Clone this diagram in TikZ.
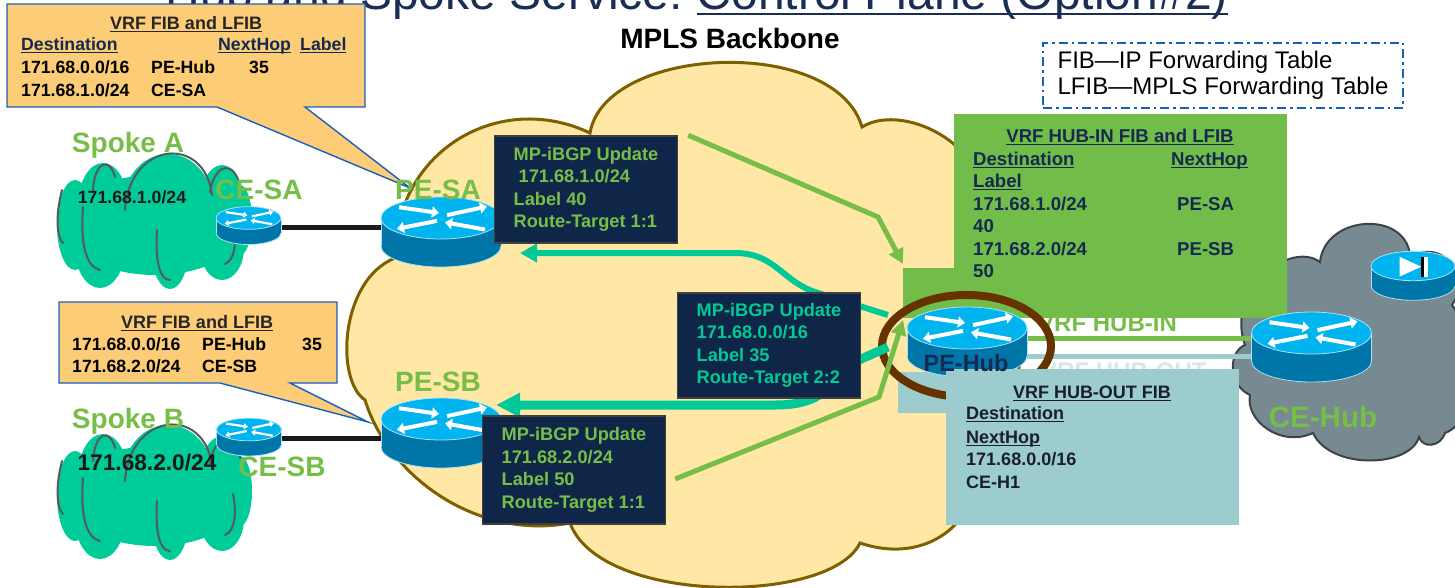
\documentclass[tikz,border=0pt]{standalone}
\usepackage{fontspec}
\setmainfont{Liberation Sans}
\usetikzlibrary{arrows.meta}

% colours
\definecolor{mplsfill}{RGB}{255,231,166}
\definecolor{mplsline}{RGB}{127,96,0}
\definecolor{spokefill}{RGB}{0,204,153}
\definecolor{spokeline}{RGB}{85,90,95}
\definecolor{hubcloud}{RGB}{120,138,145}
\definecolor{hubcloudline}{RGB}{60,66,70}
\definecolor{lblgreen}{RGB}{118,190,72}
\definecolor{mpteal}{RGB}{0,200,150}
\definecolor{boxnavy}{RGB}{16,38,72}
\definecolor{txtnavy}{RGB}{22,42,80}
\definecolor{ttlnavy}{RGB}{25,45,85}
\definecolor{outtxt}{RGB}{25,30,45}
\definecolor{callfill}{RGB}{252,205,118}
\definecolor{callline}{RGB}{25,95,190}
\definecolor{hubgreen}{RGB}{114,189,74}
\definecolor{hubblue}{RGB}{156,204,206}
\definecolor{ringbrown}{RGB}{102,51,0}
\definecolor{rttop}{RGB}{0,180,240}
\definecolor{rtside}{RGB}{0,118,168}
\definecolor{rtedge}{RGB}{170,225,245}
\definecolor{legline}{RGB}{20,95,190}

\newcommand{\fsz}[2]{\fontsize{#1}{#2}\selectfont}
\newcommand{\uln}[1]{\underline{\smash{#1}}}

% cylinder of a router icon, top face centred on the origin
\newcommand{\rtbody}{%
  \fill[rtside, draw=rtedge, line width=0.8] (0,28) ellipse [x radius=60, y radius=21];
  \fill[rtside] (-60,0) rectangle (60,28);
  \draw[rtedge, line width=0.8] (-60,0) -- (-60,28) (60,0) -- (60,28);
  \fill[rttop, draw=rtedge, line width=0.8] (0,0) ellipse [x radius=60, y radius=21];
}

\tikzset{
  rtarrow/.style={white, line width=4, -{Triangle[length=7pt,width=11pt]}},
  router/.pic={
    \rtbody
    \begin{scope}[yscale=0.36]
      \draw[rtarrow] (-42,-30) -- (-2,-14);
      \draw[rtarrow] (6,-8) -- (46,-32);
      \draw[rtarrow] (-4,8) -- (-44,30);
      \draw[rtarrow] (44,32) -- (4,12);
    \end{scope}
  },
  device/.pic={
    \rtbody
    \fill[white] (-19,-13) -- (-19,15) -- (12,1) -- cycle;
    \fill[black] (12,-13) rectangle (15,15);
    \fill[white] (15,-13) rectangle (21,15);
  },
  spoke/.pic={
    \fill[spokefill] (0,3) ellipse [x radius=90, y radius=50]
      (13,-17) ellipse [x radius=45, y radius=51]
      (-52,-17) ellipse [x radius=25, y radius=42]
      (67,-14) ellipse [x radius=23, y radius=43]
      (-80,3) ellipse [x radius=18, y radius=45]
      (-55,26) ellipse [x radius=25, y radius=40]
      (15,30) ellipse [x radius=18, y radius=37]
      (67,26) ellipse [x radius=22, y radius=32]
      (85,-2) ellipse [x radius=12, y radius=35];
    \draw[spokeline, line width=2, line cap=round]
      (-30,-12) .. controls (-25,-82) and (50,-87) .. (57,-27)
      (-62,-32) .. controls (-60,-62) and (-45,-65) .. (-40,-45)
      (55,-30) .. controls (60,-60) and (80,-62) .. (85,-35)
      (-93,-32) .. controls (-100,-5) and (-98,15) .. (-92,21)
      (-72,-15) .. controls (-75,25) and (-68,45) .. (-55,48)
      (2,8) .. controls (0,40) and (5,58) .. (15,58)
      (78,1) .. controls (82,20) and (80,38) .. (70,42);
  },
  cerouter/.style={scale=0.54, rtarrow/.append style={line width=2.2, -{Triangle[length=4pt,width=6pt]}}},
  fibcallout/.style={fill=callfill, draw=callline, line width=1.4},
  mpbox/.style={fill=boxnavy, draw=black!75, line width=1.5, minimum width=183, minimum height=107, align=left, font=\bfseries\fsz{18.2}{22.5}},
  cell/.style={anchor=base west, inner sep=0, font=\bfseries\fsz{17.7}{20}},
  hubcell/.style={cell, text=txtnavy, font=\bfseries\fsz{18.6}{20}},
  outcell/.style={cell, text=outtxt, font=\bfseries\fsz{18}{20}},
  lbl/.style={anchor=base, inner sep=0, text=lblgreen, font=\bfseries\fsz{28}{30}},
  upgreen/.style={lblgreen, line width=5, -{Triangle[length=15pt,width=15pt]}},
  upteal/.style={mpteal, -{Triangle[length=17pt,width=18pt]}},
}

\begin{document}
\begin{tikzpicture}[x=1pt, y=-1pt]
\useasboundingbox (0,0) rectangle (1455,588);

% slide title, cut by the page top
\node[anchor=base east, inner sep=0, text=ttlnavy, font=\fsz{48}{50}] (ttlb) at (1228,10) {Control Plane (Option\#2)};
\node[anchor=base east, inner sep=0, text=ttlnavy, font=\fsz{48}{50}] (ttla) at (ttlb.base west) {Hub and Spoke Service:\kern0.278em};
\draw[ttlnavy, line width=2.5] ([yshift=-4pt]ttlb.base west) -- ([yshift=-4pt]ttlb.base east);

% provider backbone
\draw[mplsline, fill=mplsfill, line width=3] (395,258)
  .. controls (395,150) and (500,90) .. (590,133)
  .. controls (605,45) and (835,35) .. (862,127)
  .. controls (905,100) and (1010,150) .. (985,245)
  .. controls (1035,290) and (1035,420) .. (965,470)
  .. controls (990,500) and (940,570) .. (860,543)
  .. controls (830,605) and (600,605) .. (570,523)
  .. controls (480,540) and (390,480) .. (365,400)
  .. controls (335,380) and (340,280) .. (395,258) -- cycle;
\node[anchor=base, font=\bfseries\fsz{28}{30}] (mpls) at (730,49) {MPLS Backbone};

% customer sites
\pic at (155,222) {spoke};
\pic at (155,493) {spoke};
\draw[hubcloudline, fill=hubcloud, line width=2] (1245,345)
  .. controls (1225,290) and (1290,240) .. (1320,262)
  .. controls (1325,215) and (1405,210) .. (1410,255)
  .. controls (1450,240) and (1470,280) .. (1452,305)
  .. controls (1480,340) and (1480,420) .. (1445,433)
  .. controls (1440,448) and (1422,448) .. (1419,437)
  .. controls (1410,468) and (1330,470) .. (1313,433)
  .. controls (1280,448) and (1245,420) .. (1250,395)
  .. controls (1228,385) and (1228,352) .. (1245,345) -- cycle;

% hub VRF tables (backgrounds)
\node[fill=hubgreen, minimum width=333, minimum height=204, inner sep=0] (hubin) at (1120.5,216) {};
\fill[hubgreen] (903,268) rectangle (hubin.south west);
\fill[hubblue] (898,372) rectangle (946,413);
\node[anchor=base west, inner sep=0, text=lblgreen, font=\bfseries\fsz{24}{26}] (vrfin) at (1038,331) {VRF HUB-IN};
\node[anchor=base west, inner sep=0, text=hubblue!45!white, font=\bfseries\fsz{24}{26}] (vrfout) at (1041,379) {VRF HUB-OUT};

% router positions
\coordinate (cesa) at (248.5,218);
\coordinate (cesb) at (249,429.5);
\coordinate (pesa) at (441,218);
\coordinate (pesb) at (441,419);
\coordinate (pehub) at (967,328);
\coordinate (cehub) at (1311.5,333);

% access links
\draw[black!90, line width=5] ([yshift=-9pt]cesa) -- ([yshift=-9pt]cesa -| pesa);
\draw[black!90, line width=5] ([yshift=-8.5pt]cesb) -- ([yshift=-8.5pt]cesb -| pesb);
\draw[lblgreen, line width=5] ([yshift=-10pt]pehub) -- ([yshift=-10pt]pehub -| cehub);
\draw[hubblue, line width=5] ([yshift=-28pt]pehub) -- ([yshift=-28pt]pehub -| cehub);

\draw[ringbrown, line width=8] (966.5,346) ellipse [x radius=84.5, y radius=51];

\pic[cerouter] at (cesa) {router};
\pic[cerouter] at (cesb) {router};
\pic at (pesa) {router};
\pic at (pesb) {router};
\pic at (pehub) {router};
\pic at (cehub) {router};
\pic[scale=0.7] at (1413,266) {device};

% updates sent by PE-Hub
\coordinate (hubtapa) at (888,315);
\coordinate (hubtapb) at (888,347);
\coordinate (pesatip) at (520,253);
\coordinate (pesbtip) at (496,405);
\draw[upteal, line width=6] (hubtapa) -- (815,292) .. controls (782,281) and (775,253) .. (735,253) -- (pesatip);
\draw[upteal, line width=9, -{Triangle[length=24pt,width=23pt]}] (hubtapb) -- (850,364) .. controls (828,392) and (815,405) .. (775,405) -- (pesbtip);

\node[mpbox, text=lblgreen] (upda) at (586,189.5) {MP-iBGP Update\\\hspace*{5pt}171.68.1.0/24\\Label 40\\Route-Target 1:1};
\node[mpbox, text=mpteal, minimum height=105] (updhub) at (769,345.5) {MP-iBGP Update\\171.68.0.0/16\\Label 35\\Route-Target 2:2};
\node[mpbox, text=lblgreen, minimum height=108] (updb) at (574,470) {MP-iBGP Update\\171.68.2.0/24\\Label 50\\Route-Target 1:1};

% updates sent by the spoke PEs
\coordinate (hubtipa) at (903,264);
\coordinate (hubtipb) at (903,320);
\draw[upgreen] ([xshift=10pt]upda.north east) -- (878,217) -- (hubtipa);
\draw[upgreen] ([xshift=9pt,yshift=-9pt]updb.east) -- (879,397) -- (hubtipb);

\node[fill=hubblue, minimum width=293, minimum height=156, inner sep=0] (hubout) at (1092.5,447) {};

% VRF HUB-IN
\node[hubcell, anchor=base] (inttl) at (1120,142.5) {\uln{VRF HUB-IN FIB and LFIB}};
\node[hubcell] (indst) at (973,165.5) {\uln{Destination}};
\node[hubcell] (innh) at (1171,165.5) {\uln{NextHop}};
\node[hubcell] (inlbl) at (973,187.5) {\uln{Label}};
\node[hubcell] (inr1a) at (973,210.5) {171.68.1.0/24};
\node[hubcell] (inr1b) at (1177,210.5) {PE-SA};
\node[hubcell] (inr1c) at (973,232.5) {40};
\node[hubcell] (inr2a) at (973,255.5) {171.68.2.0/24};
\node[hubcell] (inr2b) at (1177,255.5) {PE-SB};
\node[hubcell] (inr2c) at (973,277.5) {50};

% VRF HUB-OUT
\node[outcell, anchor=base] (outttl) at (1092,398.5) {\uln{VRF HUB-OUT FIB}};
\node[outcell] (outdst) at (966,419.5) {\uln{Destination}};
\node[outcell] (outnh) at (966,443.5) {\uln{NextHop}};
\node[outcell] (outr1a) at (966,465.5) {171.68.0.0/16};
\node[outcell] (outr1b) at (966,488.5) {CE-H1};

% spoke PE tables
\coordinate (tipa) at (410,188);
\draw[fibcallout] (7,4) -- (365,4) -- (365,107) -- (305,107) -- (tipa) -- (217,107) -- (7,107) -- cycle;
\node[cell, anchor=base, text=black!85, font=\bfseries\fsz{18}{20}] (fibattl) at (186,29.5) {\uln{VRF FIB and LFIB}};
\node[cell, text=txtnavy] (fibadst) at (21,51) {\uln{Destination}};
\node[cell, text=txtnavy] (fibanh) at (218,51) {\uln{NextHop}};
\node[cell, text=txtnavy] (fibalbl) at (300,51) {\uln{Label}};
\node[cell] (fibar1a) at (21,74) {171.68.0.0/16};
\node[cell] (fibar1b) at (151,74) {PE-Hub};
\node[cell] (fibar1c) at (249,74) {35};
\node[cell] (fibar2a) at (21,97) {171.68.1.0/24};
\node[cell] (fibar2b) at (151,97) {CE-SA};

\coordinate (tipb) at (368,422);
\draw[fibcallout] (59,302) -- (337,302) -- (337,383) -- (290,383) -- (tipb) -- (220,383) -- (59,383) -- cycle;
\node[cell, anchor=base, text=black!85, font=\bfseries\fsz{18}{20}] (fibbttl) at (197,328.5) {\uln{VRF FIB and LFIB}};
\node[cell] (fibbr1a) at (72,350.5) {171.68.0.0/16};
\node[cell] (fibbr1b) at (202,350.5) {PE-Hub};
\node[cell] (fibbr1c) at (302,350.5) {35};
\node[cell] (fibbr2a) at (72,372.5) {171.68.2.0/24};
\node[cell] (fibbr2b) at (202,372.5) {CE-SB};

% site and router names
\node[lbl] (lspka) at (128,153) {Spoke A};
\node[anchor=base, inner sep=0, text=black!90, font=\bfseries\fsz{17.7}{20}] (neta) at (132,203.3) {171.68.1.0/24};
\node[lbl] (lcesa) at (259,200) {CE-SA};
\node[lbl] (lpesa) at (438,200) {PE-SA};
\node[lbl] (lpesb) at (438,391) {PE-SB};
\node[lbl] (lspkb) at (128,428) {Spoke B};
\node[anchor=base, inner sep=0, text=black!90, font=\bfseries\fsz{22.7}{24}] (netb) at (147,470) {171.68.2.0/24};
\node[lbl] (lcesb) at (282,476) {CE-SB};
\node[lbl, text=txtnavy, font=\bfseries\fsz{23.5}{25}] (lpehub) at (966,371.5) {PE-Hub};
\node[lbl, font=\bfseries\fsz{29.6}{31}] (lcehub) at (1323,427.6) {CE-Hub};

% legend
\node[draw=legline, line width=2.2, dash pattern=on 9pt off 4pt on 2.5pt off 4pt, minimum width=360, minimum height=65, align=left, font=\fsz{24}{26}] (legend) at (1223,75.5) {FIB—IP Forwarding Table\\LFIB—MPLS Forwarding Table};

\end{tikzpicture}
\end{document}
